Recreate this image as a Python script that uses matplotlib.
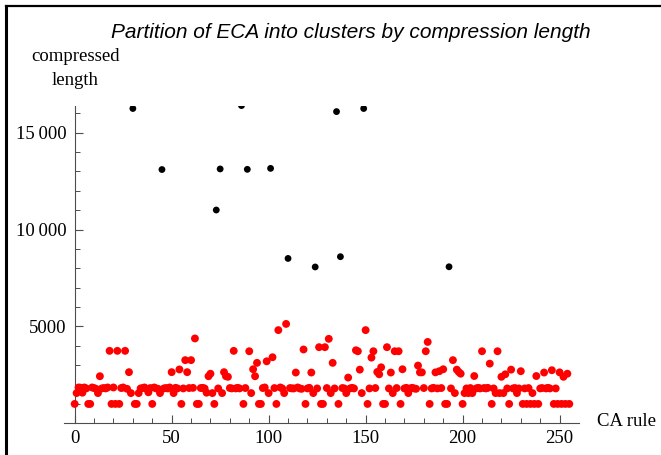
import numpy as np
import matplotlib
matplotlib.use("Agg")
import matplotlib.pyplot as plt
from matplotlib.lines import Line2D
from matplotlib.ticker import FixedLocator, FuncFormatter

# compressed length of every elementary cellular automaton, rule 0..255
lengths = [
    1000, 1560, 1850, 1840, 1580, 1850, 1800, 1000, 1000, 1850, 1820, 1780, 1560, 2430, 1800, 1820,
    1800, 1850, 3740, 1000, 1850, 1000, 3740, 1000, 1820, 1850, 3740, 1780, 2640, 1560, 16250, 1000,
    1000, 1560, 1800, 1820, 1850, 1780, 1600, 1820, 1000, 1850, 1800, 1780, 1560, 13100, 1800, 1820,
    1800, 1850, 2640, 1560, 1830, 1800, 2780, 1000, 1800, 3260, 2640, 1820, 3260, 1830, 4380, 1000,
    1000, 1820, 1830, 1800, 1580, 2430, 2560, 1560, 1000, 11010, 1800, 13130, 1560, 2640, 2430, 2400,
    1820, 1800, 3740, 1800, 1830, 1800, 16400, 1000, 1820, 13110, 3720, 1560, 2790, 2430, 3120, 1000,
    1000, 1820, 1850, 3200, 1560, 13160, 3410, 1820, 1000, 4810, 1850, 1800, 1560, 5130, 8510, 1820,
    1800, 1800, 2620, 1850, 1800, 1780, 3810, 1000, 1800, 1830, 2620, 1560, 8070, 1800, 3930, 1000,
    1000, 3930, 1820, 4360, 1560, 3120, 1800, 16090, 1000, 8600, 1820, 1800, 1560, 2360, 1800, 1830,
    1800, 3770, 3720, 2770, 1560, 16250, 4810, 1000, 1800, 3390, 3720, 1820, 2650, 2530, 2890, 1000,
    1000, 3930, 1800, 2620, 1560, 3720, 1820, 3720, 1000, 2790, 1800, 1830, 1560, 1800, 1830, 1800,
    1780, 2980, 2630, 2630, 1820, 3720, 4200, 1000, 1800, 1830, 2630, 1800, 2690, 1820, 2790, 1000,
    1000, 8080, 1800, 3260, 1560, 2770, 2650, 2560, 1000, 1560, 1800, 1560, 1820, 1560, 2440, 1800,
    1830, 1800, 3720, 1820, 1800, 1830, 3080, 1000, 1800, 1560, 3720, 1560, 2400, 1560, 2530, 1800,
    1000, 2770, 1800, 1820, 1560, 1800, 2690, 1000, 1800, 1000, 1820, 1000, 1560, 1000, 2440, 1000,
    1800, 1820, 2620, 1800, 1830, 1800, 2740, 1000, 1800, 1000, 2630, 1000, 2400, 1000, 2560, 1000,
]
rules = np.arange(len(lengths))

# rules that fall into the high-complexity cluster
complex_rules = [30, 45, 73, 75, 86, 89, 101, 110, 124, 135, 137, 149, 193]

x_major = [0, 50, 100, 150, 200, 250]
y_major = [5000, 10000, 15000]

lengths = np.array(lengths)
is_complex = np.isin(rules, complex_rules)

serif = "Liberation Serif"
axis_grey = "0.3"

fig = plt.figure(figsize=(6.61, 4.55), dpi=100)
W, H = 661, 455
ax = fig.add_axes([64 / W, 1 - 423.3 / H, (579 - 64) / W, (423.3 - 105.6) / H])

ax.scatter(rules[~is_complex], lengths[~is_complex], s=32, color="#ff0000",
           edgecolors="none", zorder=3)
ax.scatter(rules[is_complex], lengths[is_complex], s=24, color="black",
           edgecolors="none", zorder=3)

ax.set_xlim(-5.5, 260)
ax.set_ylim(0, 16400)

ax.spines["left"].set_position(("data", 0))
ax.spines["right"].set_visible(False)
ax.spines["top"].set_visible(False)
for side in ("left", "bottom"):
    ax.spines[side].set_color(axis_grey)
    ax.spines[side].set_linewidth(0.8)

ax.xaxis.set_major_locator(FixedLocator(x_major))
ax.xaxis.set_minor_locator(FixedLocator([v for v in range(10, 260, 10) if v % 50]))
ax.yaxis.set_major_locator(FixedLocator(y_major))
ax.yaxis.set_minor_locator(FixedLocator([v for v in range(1000, 16500, 1000) if v % 5000]))


def fmt_len(v, pos):
    v = int(v)
    if v >= 10000:
        return f"{v // 1000}\u2009{v % 1000:03d}"
    return str(v)


ax.yaxis.set_major_formatter(FuncFormatter(fmt_len))

ax.tick_params(which="major", direction="in", length=6, width=0.8, color=axis_grey,
               labelsize=13.5, labelcolor="black")
ax.tick_params(which="minor", direction="in", length=3.5, width=0.7, color=axis_grey)
ax.tick_params(axis="y", which="major", pad=6)
ax.tick_params(axis="x", which="major", pad=5)
for lab in ax.get_xticklabels() + ax.get_yticklabels():
    lab.set_fontfamily(serif)

fig.text(75 / W, 1 - 68.5 / H, "compressed\nlength", ha="center", va="center",
         fontsize=13.5, family=serif, linespacing=1.5)
fig.text(597 / W, 1 - 422 / H, "CA rule", ha="left", va="center",
         fontsize=13.5, family=serif)
fig.text(351 / W, 1 - 33 / H, "Partition of ECA into clusters by compression length",
         ha="center", va="center", fontsize=15, family="Liberation Sans", style="italic")

# frame lines along the top and left edge
fig.add_artist(Line2D([6 / W, 6 / W], [0, 1 - 6 / H], transform=fig.transFigure,
                      color="black", linewidth=2.2))
fig.add_artist(Line2D([6 / W, 1], [1 - 6 / H, 1 - 6 / H], transform=fig.transFigure,
                      color="black", linewidth=1.6))

fig.savefig("out.png", dpi=100)
